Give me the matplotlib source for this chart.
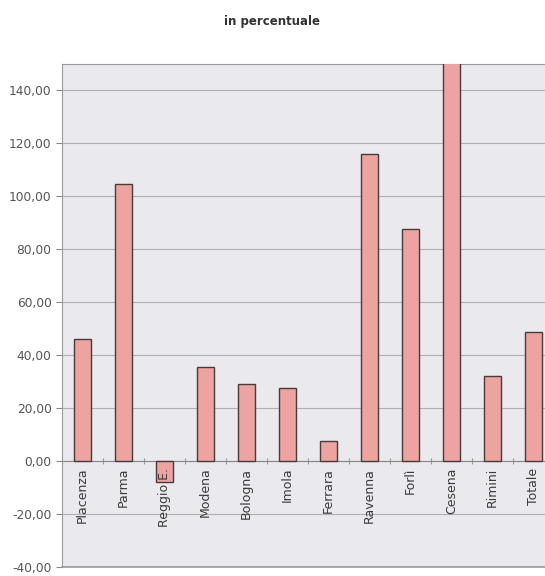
import numpy as np
import matplotlib.pyplot as plt
from matplotlib.ticker import FuncFormatter

# Data (percent change)
categories = ['Placenza', 'Parma', 'Reggio E.', 'Modena', 'Bologna', 'Imola',
              'Ferrara', 'Ravenna', 'Forlì', 'Cesena', 'Rimini', 'Totale']
values = [46.0, 104.5, -8.0, 35.5, 29.0, 27.7, 7.5, 116.0, 87.6, 160.0, 32.0, 48.7]
yticks = [-40, -20, 0, 20, 40, 60, 80, 100, 120, 140]

fig = plt.figure(figsize=(5.45, 5.76), dpi=100)
fig.patch.set_facecolor('white')
ax = fig.add_axes([62 / 545, 9 / 576, 492 / 545, 503 / 576])
ax.set_facecolor('#e9e9ee')

x = np.arange(len(categories))
ax.bar(x, values, width=0.42, color='#eda4a0', edgecolor='#4a3a3a',
       linewidth=1.0, zorder=3)

ax.set_xlim(-0.5, len(categories) - 0.5)
ax.set_ylim(-40, 150)
ax.set_yticks(yticks)
ax.yaxis.set_major_formatter(FuncFormatter(lambda v, _: f'{v:.2f}'.replace('.', ',')))
ax.tick_params(axis='y', labelsize=8.8, labelcolor='#555555', color='#888888',
               length=4, width=0.8)
ax.yaxis.grid(True, color='#b0b0b4', linewidth=0.8, zorder=0)

# category axis drawn on the zero line
ax.spines['bottom'].set_position(('data', 0))
ax.spines['bottom'].set_color('#888888')
ax.set_xticks(np.arange(len(categories) + 1) - 0.5)
ax.set_xticklabels([])
ax.tick_params(axis='x', direction='inout', length=5, color='#999999', width=0.8)

for s in ['left', 'top', 'right']:
    ax.spines[s].set_color('#999999')
    ax.spines[s].set_linewidth(0.8)
ax.axhline(-40, color='#999999', linewidth=1.2, clip_on=False)

for xi, name in zip(x, categories):
    ax.text(xi, -2.5, name, rotation=90, ha='center', va='top',
            fontsize=9, color='#3a3a3a', zorder=4)

fig.text(0.5, 0.963, 'in percentuale', ha='center', va='center',
         fontsize=8.5, color='#333333', fontweight='bold')

fig.savefig('out.png', dpi=100)
